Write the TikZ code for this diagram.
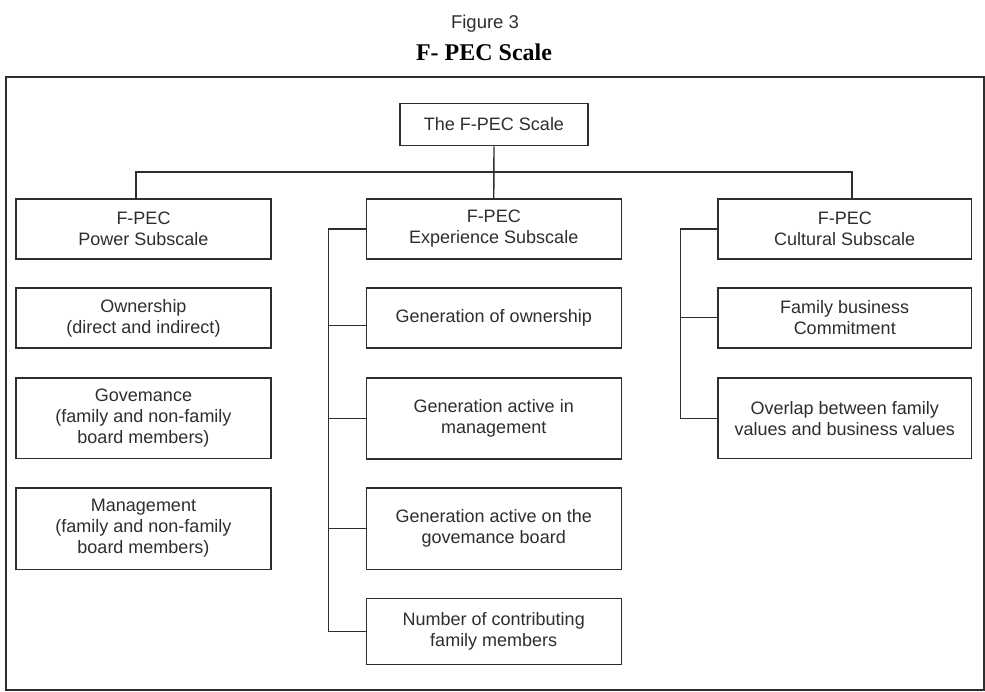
\documentclass[tikz,border=0pt]{standalone}
\usepackage{fontspec}
\setmainfont{Liberation Sans}
\newfontfamily\titleserif{Liberation Serif}
\definecolor{ink}{HTML}{2E2E2E}
\begin{document}
\begin{tikzpicture}[x=1pt,y=-1pt,
  scalebox/.style={draw=ink, line width=1.5pt, text=ink, align=center,
    inner sep=0pt, font=\fontsize{18}{21}\selectfont},
  wide/.style={scalebox, minimum width=255pt},
  link/.style={draw=ink, line width=1.4pt}]
\useasboundingbox (0,0) rectangle (985,691);
\fill[white] (0,0) rectangle (985,691);

% heading
\node[text=ink, font=\fontsize{18.5}{20}\selectfont, anchor=base] (fig) at (485,28) {Figure 3};
\node[text=black, font=\titleserif\bfseries\fontsize{24}{26}\selectfont, anchor=base] (head) at (484,60) {F- PEC Scale};

% outer frame
\draw[ink, line width=2pt] (6,77) rectangle (983.5,689.5);

% root
\node[scalebox, minimum width=188pt, minimum height=42pt] (root) at (494,124.5) {The F-PEC Scale};

% subscales
\node[wide, minimum height=60pt] (power) at (143.5,229) {F-PEC\\Power Subscale};
\node[wide, minimum height=60pt] (exp) at (493.75,229) {F-PEC\\Experience Subscale};
\node[wide, minimum width=253.5pt, minimum height=60pt] (cult) at (844.75,229) {F-PEC\\Cultural Subscale};

% power items
\node[wide, minimum height=60pt] (own) at (143.5,318) {Ownership\\(direct and indirect)};
\node[wide, minimum height=80.5pt] (gov) at (143.5,418) {Govemance\\(family and non-family\\board members)};
\node[wide, minimum height=81.5pt] (mgmt) at (143.5,528.5) {Management\\(family and non-family\\board members)};

% experience items
\node[wide, minimum height=60pt] (genown) at (493.75,317.75) {Generation of ownership};
\node[wide, minimum height=81pt] (genmgmt) at (493.75,418.5) {Generation active in\\management};
\node[wide, minimum height=81.5pt] (gengov) at (493.75,528.75) {Generation active on the\\govemance board};
\node[wide, minimum height=66pt] (number) at (493.75,631.5) {Number of contributing\\family members};

% cultural items
\node[wide, minimum width=253.5pt, minimum height=60pt] (family) at (844.75,317.75) {Family business\\Commitment};
\node[wide, minimum width=253.5pt, minimum height=80.5pt] (overlap) at (844.75,418.25) {Overlap between family\\values and business values};

% bus lines
\coordinate (busL) at (136,172);
\coordinate (busR) at (852,172);
\coordinate (ebx) at (328.5,0);
\coordinate (cbx) at (680.5,0);

\draw[link] (root.south) -- (exp.north);
\draw[link] (power.north -| busL) -- (busL) -- (busR) -- (cult.north -| busR);

\draw[link] (exp.west) -- (exp.west -| ebx) |- (number.west);
\draw[link] ([yshift=-8pt]genown.west) -- ([yshift=-8pt]genown.west -| ebx);
\draw[link] (genmgmt.west) -- (genmgmt.west -| ebx);
\draw[link] (gengov.west) -- (gengov.west -| ebx);

\draw[link] (cult.west) -- (cult.west -| cbx) |- (overlap.west);
\draw[link] (family.west) -- (family.west -| cbx);
\end{tikzpicture}
\end{document}
